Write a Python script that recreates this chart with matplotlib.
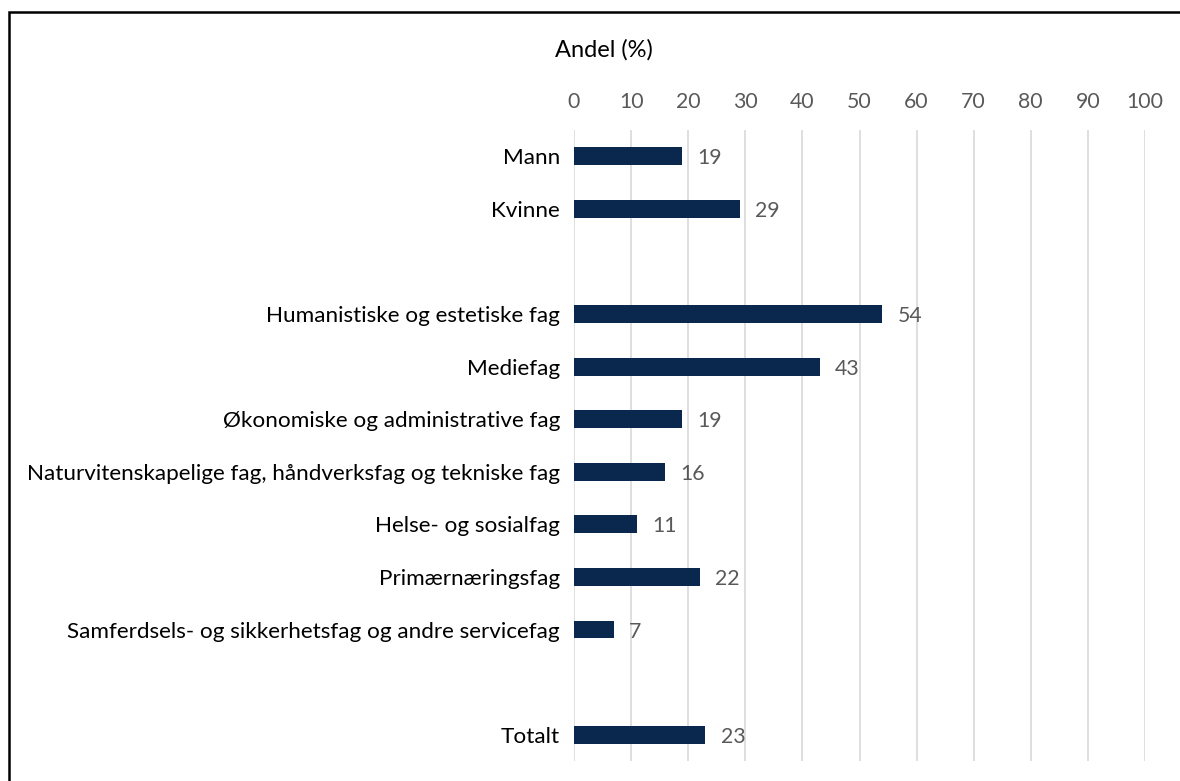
import matplotlib.pyplot as plt
from matplotlib.patches import Rectangle
import numpy as np

plt.rcParams['font.family'] = ['Lato', 'DejaVu Sans']

# rows top to bottom, empty strings are spacer rows
categories = ["Mann", "Kvinne", "",
              "Humanistiske og estetiske fag",
              "Mediefag",
              "Økonomiske og administrative fag",
              "Naturvitenskapelige fag, håndverksfag og tekniske fag",
              "Helse- og sosialfag",
              "Primærnæringsfag",
              "Samferdsels- og sikkerhetsfag og andre servicefag",
              "", "Totalt"]
values = [19, 29, None, 54, 43, 19, 16, 11, 22, 7, None, 23]

bar_color = "#0a284e"
grey = "#595959"

fig = plt.figure(figsize=(11.8, 7.81), dpi=100)
ax = fig.add_axes([574 / 1180, 1 - 761 / 781, 571 / 1180, 631 / 781])

y = np.arange(len(categories))
for yi, v in zip(y, values):
    if v is None:
        continue
    ax.barh(yi, v, height=0.34, color=bar_color, zorder=3)
    ax.annotate(str(v), (v, yi), xytext=(11, -1.5), textcoords="offset points",
                va="center", ha="left", fontsize=15.3, color=grey)

ax.set_xlim(0, 100)
ax.set_ylim(len(categories) - 0.5, -0.5)
ax.set_xticks(np.arange(0, 101, 10))
ax.set_yticks(y)
ax.set_yticklabels(categories, fontsize=16.2, color="black")
ax.xaxis.tick_top()
ax.tick_params(axis="x", length=0, pad=13, labelsize=15.3, labelcolor=grey)
ax.tick_params(axis="y", length=0, pad=10)
for t in ax.get_yticklabels():
    t.set_va("center_baseline")
ax.grid(axis="x", color="#d9d9d9", linewidth=1.2, zorder=0)
for s in ax.spines.values():
    s.set_visible(False)

fig.text(604 / 1180, 1 - 50 / 781, "Andel (%)", ha="center", va="center",
         fontsize=17, color="black")

# frame around the chart, cut off at right and bottom
fig.patches.append(Rectangle((8.5 / 1180, -0.05), 1.2, 1.05 - 12 / 781,
                             transform=fig.transFigure, fill=False,
                             edgecolor="black", linewidth=1.8))

plt.savefig("out.png", dpi=100)
